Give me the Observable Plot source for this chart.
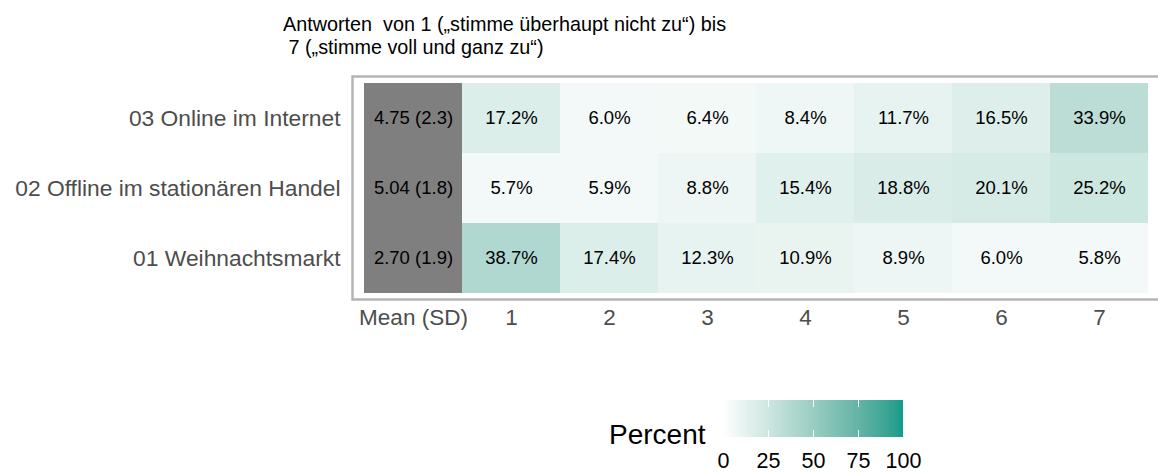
<!DOCTYPE html>
<html>
<head>
<meta charset="utf-8">
<script src="https://cdn.jsdelivr.net/npm/d3@7"></script>
<script src="https://cdn.jsdelivr.net/npm/@observablehq/plot@0.6"></script>
<style>
  html, body { margin: 0; padding: 0; background: #fff; }
  #wrap { position: relative; width: 1158px; height: 473px; font-family: "Liberation Sans", Arial, Helvetica, sans-serif; overflow: hidden; }
  #title { position: absolute; left: 283px; top: 13px; font-size: 19.8px; line-height: 23px; white-space: pre; color: #000; }
  #main { position: absolute; left: 0; top: 0; }
  #legend { position: absolute; left: 0; top: 390px; }
  #ltitle { position: absolute; left: 609px; top: 421px; font-size: 28px; line-height: 28px; color: #000; }
</style>
</head>
<body>
<div id="wrap">
  <div id="main"></div>
  <div id="title"></div>
  <div id="legend"></div>
  <div id="ltitle"></div>
</div>
<script>
// ---- data ----
const titleText = "Antworten  von 1 („stimme überhaupt nicht zu“) bis\n 7 („stimme voll und ganz zu“)";
const legendTitle = "Percent";
const categories = ["03 Online im Internet", "02 Offline im stationären Handel", "01 Weihnachtsmarkt"];
const meanLabel = "Mean (SD)";
const levels = ["1", "2", "3", "4", "5", "6", "7"];
const means = [4.75, 5.04, 2.70];
const sds = [2.3, 1.8, 1.9];
const pctOnline = [17.2, 6.0, 6.4, 8.4, 11.7, 16.5, 33.9];
const pctOffline = [5.7, 5.9, 8.8, 15.4, 18.8, 20.1, 25.2];
const pctMarkt = [38.7, 17.4, 12.3, 10.9, 8.9, 6.0, 5.8];
const legendTicks = [0, 25, 50, 75, 100];

// ---- tables built from the arrays ----
const pctRows = [pctOnline, pctOffline, pctMarkt];
const cells = [];
categories.forEach((c, i) => levels.forEach((l, j) => cells.push({cat: c, level: l, pct: pctRows[i][j]})));
const meanCells = categories.map((c, i) => ({cat: c, level: meanLabel, text: `${means[i].toFixed(2)} (${sds[i].toFixed(1)})`}));

const colorOpts = {type: "linear", domain: [0, 100], range: ["#ffffff", "#129b89"], interpolate: d3.interpolateLab};
const font = '"Liberation Sans", Arial, Helvetica, sans-serif';

document.getElementById("title").textContent = titleText;
document.getElementById("ltitle").textContent = legendTitle;

const main = Plot.plot({
  width: 1158,
  height: 340,
  marginLeft: 361,
  marginRight: 7,
  marginTop: 82,
  marginBottom: 46,
  style: {fontFamily: font, background: "transparent", overflow: "visible"},
  x: {domain: [meanLabel, ...levels], padding: 0, label: null, axis: null},
  y: {domain: categories, padding: 0, label: null, axis: null},
  color: colorOpts,
  marks: [
    Plot.cell(meanCells, {x: "level", y: "cat", fill: "#7f7f7f", inset: 0, shapeRendering: "crispEdges"}),
    Plot.cell(cells, {x: "level", y: "cat", fill: "pct", inset: 0, shapeRendering: "crispEdges"}),
    Plot.text(meanCells, {x: "level", y: "cat", text: "text", fill: "#000", fontSize: 18.5}),
    Plot.text(cells, {x: "level", y: "cat", text: d => d.pct.toFixed(1) + "%", fill: "#000", fontSize: 18.5}),
    Plot.frame({stroke: "#b5b5b5", strokeWidth: 2.5, insetLeft: -9, insetTop: -6, insetBottom: -5, insetRight: -14}),
    Plot.axisX({anchor: "bottom", tickSize: 0, tickPadding: 15, fontSize: 22.5, color: "#4d4d4d", label: null}),
    Plot.axisY({anchor: "left", tickSize: 0, tickPadding: 21, fontSize: 22.8, color: "#4d4d4d", label: null})
  ]
});
document.getElementById("main").appendChild(main);

// legend ramp (fine slices of the same colour scale)
const rampSteps = d3.range(0, 100, 0.5);
const legend = Plot.plot({
  width: 1158,
  height: 83,
  marginLeft: 723,
  marginRight: 255,
  marginTop: 10,
  marginBottom: 36,
  style: {fontFamily: font, background: "transparent", overflow: "visible"},
  x: {domain: [0, 100], axis: null},
  y: {domain: [0, 1], axis: null},
  color: colorOpts,
  marks: [
    Plot.rect(rampSteps, {x1: d => d, x2: d => Math.min(100, d + 1), y1: 0, y2: 1, fill: d => d + 0.25, shapeRendering: "crispEdges"}),
    Plot.ruleX(legendTicks.slice(1), {y1: 0, y2: 0.19, stroke: "#fff", strokeWidth: 1}),
    Plot.ruleX(legendTicks.slice(1), {y1: 0.81, y2: 1, stroke: "#fff", strokeWidth: 1}),
    Plot.axisX(legendTicks, {anchor: "bottom", tickSize: 0, tickPadding: 15, fontSize: 21.5, color: "#000", label: null})
  ]
});
document.getElementById("legend").appendChild(legend);
</script>
</body>
</html>
